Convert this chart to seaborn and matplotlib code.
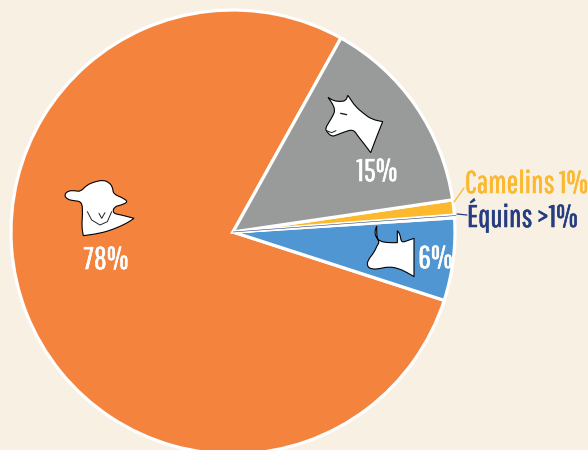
import matplotlib
matplotlib.use('Agg')
import matplotlib.pyplot as plt
from matplotlib.patches import PathPatch
from matplotlib.path import Path
import matplotlib.patheffects as pe
import seaborn as sns

# values
categories = ['Ovins', 'Bovins', 'Équins', 'Camelins', 'Caprins']
shares = [78.1, 6.0, 0.2, 1.1, 14.6]
slice_colors = ['#F4833D', '#5096D2', '#F9F0E4', '#FDB92E', '#999B9B']

label_78 = '78%'
label_15 = '15%'
label_6 = '6%'
label_camelins = 'Camelins 1%'
label_equins = 'Équins >1%'

BG = '#F9F0E4'
NAVY = '#263E80'
YELLOW = '#FDB92E'
H = 450

sns.set_style('white')
plt.rcParams['font.family'] = ['Pathway Gothic One', 'Barlow Condensed', 'DejaVu Sans']

fig = plt.figure(figsize=(5.88, 4.5), dpi=100, facecolor=BG)
ax = fig.add_axes([0, 0, 1, 1])

palette = sns.color_palette(slice_colors)
ax.pie(
    shares,
    colors=palette,
    startangle=60.9,
    center=(233, H - 232),
    radius=222,
    wedgeprops={'edgecolor': 'white', 'linewidth': 2.3},
)
ax.set_xlim(0, 588)
ax.set_ylim(0, H)
ax.set_aspect('equal')
ax.axis('off')


def smooth_shape(points, x0, y0):
    # closed outline, quadratic curves through the midpoints
    pts = [(x0 + x / 3, H - (y0 + y / 3)) for x, y in points]
    n = len(pts)
    mids = [((pts[i][0] + pts[(i + 1) % n][0]) / 2, (pts[i][1] + pts[(i + 1) % n][1]) / 2)
            for i in range(n)]
    verts = [mids[-1]]
    codes = [Path.MOVETO]
    for i in range(n):
        verts += [pts[i], mids[i]]
        codes += [Path.CURVE3, Path.CURVE3]
    return Path(verts, codes)


def detail(points, x0, y0, lw=0.7):
    ax.plot([x0 + x / 3 for x, y in points], [H - (y0 + y / 3) for x, y in points],
            color='#222222', lw=lw, zorder=6)


goat = [(84, 52), (84, 52), (100, 62), (120, 65), (138, 62), (143, 46), (143, 46), (150, 55),
        (165, 78), (190, 100), (215, 118), (248, 125), (248, 125), (230, 170), (212, 218),
        (212, 218), (195, 195), (175, 170), (160, 148), (135, 155), (110, 165), (95, 170),
        (80, 155), (76, 145), (88, 125), (100, 105), (105, 90), (98, 72)]
cow = [(230, 438), (230, 438), (224, 455), (228, 472), (240, 484), (262, 488), (292, 488),
       (292, 488), (292, 452), (292, 452), (300, 462), (304, 488), (322, 482), (342, 475),
       (342, 475), (342, 590), (342, 590), (322, 578), (295, 565), (265, 560), (240, 566),
       (215, 568), (200, 558), (205, 538), (222, 518), (232, 495), (238, 488), (232, 475),
       (230, 460)]
sheep = [(42, 75), (55, 62), (75, 62), (92, 65), (110, 45), (135, 35), (160, 30), (178, 38),
         (188, 52), (190, 72), (215, 82), (235, 95), (215, 105), (192, 110), (188, 130),
         (215, 135), (252, 145), (252, 145), (230, 160), (190, 178), (150, 190), (100, 197),
         (100, 197), (95, 170), (98, 130), (96, 95), (70, 92), (52, 88)]

for shape, x0, y0 in [(goat, 300, 80), (cow, 300, 80), (sheep, 50, 170)]:
    ax.add_patch(PathPatch(smooth_shape(shape, x0, y0), facecolor='white', edgecolor='black',
                           linewidth=0.8, zorder=5))

# little details on the faces
detail([(122, 100), (140, 104)], 300, 80, lw=1.0)
detail([(80, 152), (95, 158), (108, 152)], 300, 80)
detail([(112, 125), (125, 150), (150, 165), (172, 155), (185, 125)], 50, 170)
detail([(147, 130), (155, 145), (165, 128)], 50, 170)

# leader lines
ax.plot([454, 464], [H - 202, H - 188], color=YELLOW, lw=0.9, zorder=4)
ax.plot([457, 467], [H - 214, H - 215], color=NAVY, lw=0.9, zorder=4)
ax.plot([233, 456], [H - 232, H - 215.5], color=NAVY, lw=0.4, zorder=4)

big = 22.5
texts = [
    ax.text(106, H - 269, label_78, color='white', fontsize=big, ha='center', va='baseline', zorder=6),
    ax.text(377, H - 181, label_15, color='white', fontsize=big, ha='center', va='baseline', zorder=6),
    ax.text(435.5, H - 268, label_6, color='white', fontsize=big, ha='center', va='baseline', zorder=6),
    ax.text(465, H - 193, label_camelins, color=YELLOW, fontsize=big, ha='left', va='baseline'),
    ax.text(467, H - 227, label_equins, color=NAVY, fontsize=big, ha='left', va='baseline'),
]
# slightly heavier strokes than the font has
for t in texts:
    t.set_path_effects([pe.withStroke(linewidth=0.4, foreground=t.get_color())])

fig.savefig('out.png', dpi=100, facecolor=BG)
